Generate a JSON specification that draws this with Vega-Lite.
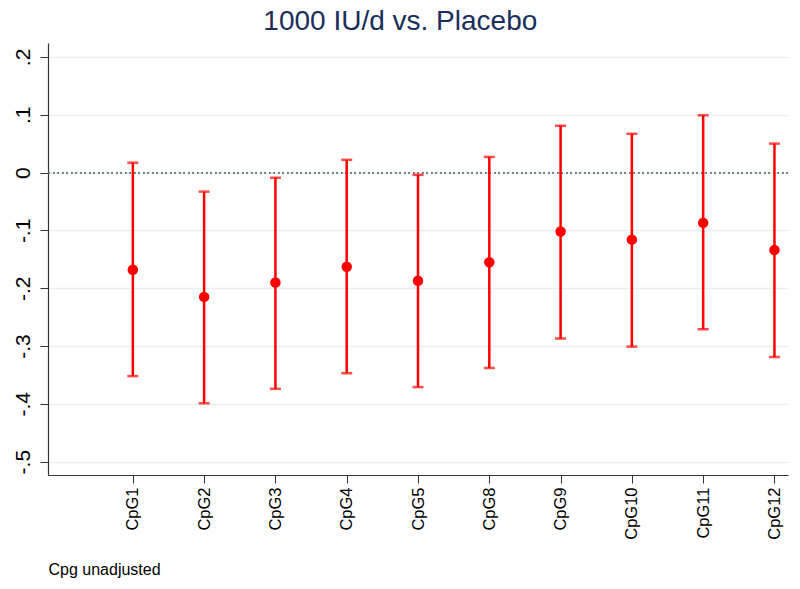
{
  "$schema": "https://vega.github.io/schema/vega-lite/v6.json",
  "autosize": {"type": "none"},
  "padding": {"left": 48, "top": 43, "right": 12, "bottom": 114},
  "width": 740,
  "height": 432,
  "background": "white",
  "title": {
    "text": "1000 IU/d vs. Placebo",
    "font": "Liberation Sans",
    "fontSize": 28,
    "fontWeight": "normal",
    "color": "#1a2e5c",
    "anchor": "middle",
    "frame": "bounds",
    "offset": 7
  },
  "config": {
    "view": {"stroke": null},
    "font": "Liberation Sans"
  },
  "data": {
    "values": [
      {"cpg": "CpG1", "est": -0.168, "lo": -0.352, "hi": 0.017},
      {"cpg": "CpG2", "est": -0.215, "lo": -0.399, "hi": -0.033},
      {"cpg": "CpG3", "est": -0.190, "lo": -0.374, "hi": -0.009},
      {"cpg": "CpG4", "est": -0.163, "lo": -0.347, "hi": 0.022},
      {"cpg": "CpG5", "est": -0.187, "lo": -0.371, "hi": -0.004},
      {"cpg": "CpG8", "est": -0.155, "lo": -0.338, "hi": 0.027},
      {"cpg": "CpG9", "est": -0.102, "lo": -0.287, "hi": 0.081},
      {"cpg": "CpG10", "est": -0.116, "lo": -0.301, "hi": 0.067},
      {"cpg": "CpG11", "est": -0.087, "lo": -0.271, "hi": 0.099},
      {"cpg": "CpG12", "est": -0.134, "lo": -0.319, "hi": 0.050}
    ]
  },
  "encoding": {
    "x": {
      "field": "cpg",
      "type": "ordinal",
      "sort": null,
      "scale": {
        "type": "point",
        "padding": 0.19,
        "domain": ["", "CpG1", "CpG2", "CpG3", "CpG4", "CpG5", "CpG8", "CpG9", "CpG10", "CpG11", "CpG12"]
      },
      "axis": {
        "values": ["CpG1", "CpG2", "CpG3", "CpG4", "CpG5", "CpG8", "CpG9", "CpG10", "CpG11", "CpG12"],
        "title": "Cpg unadjusted",
        "titleAnchor": "start",
        "titleAlign": "left",
        "titleFontSize": 16,
        "titleFontWeight": "normal",
        "titleColor": "black",
        "titlePadding": 22,
        "labelAngle": -90,
        "labelAlign": "right",
        "labelBaseline": "middle",
        "labelFontSize": 16.5,
        "labelColor": "black",
        "labelPadding": 4,
        "tickSize": 8,
        "tickColor": "#333333",
        "domainColor": "#333333",
        "domainWidth": 1.2,
        "grid": false
      }
    }
  },
  "layer": [
    {
      "mark": {"type": "rule", "stroke": "#6d7b80", "strokeDash": [1.5, 3], "strokeWidth": 1.2},
      "encoding": {"y": {"datum": 0}, "x": null}
    },
    {
      "mark": {"type": "rule", "color": "#ff0000", "strokeWidth": 2.5},
      "encoding": {
        "y": {
          "field": "lo",
          "type": "quantitative",
          "scale": {"domain": [-0.523, 0.224], "nice": false, "zero": false},
          "axis": {
            "title": null,
            "values": [-0.5, -0.4, -0.3, -0.2, -0.1, 0, 0.1, 0.2],
            "labelExpr": "replace(replace(format(datum.value, '.1~f'), '\u2212', '-'), '0.', '.')",
            "labelAngle": -90,
            "labelAlign": "center",
            "labelBaseline": "bottom",
            "labelFontSize": 21,
            "labelColor": "black",
            "labelPadding": 7,
            "tickSize": 8,
            "tickColor": "#333333",
            "domainColor": "#333333",
            "domainWidth": 1.2,
            "grid": true,
            "gridColor": "#e8f0f2",
            "gridWidth": 1.5
          }
        },
        "y2": {"field": "hi"}
      }
    },
    {
      "mark": {"type": "tick", "color": "#ff0000", "orient": "horizontal", "size": 11, "thickness": 2.5},
      "encoding": {"y": {"field": "lo", "type": "quantitative"}}
    },
    {
      "mark": {"type": "tick", "color": "#ff0000", "orient": "horizontal", "size": 11, "thickness": 2.5},
      "encoding": {"y": {"field": "hi", "type": "quantitative"}}
    },
    {
      "mark": {"type": "circle", "color": "#ff0000", "size": 110, "opacity": 1},
      "encoding": {"y": {"field": "est", "type": "quantitative"}}
    }
  ]
}
